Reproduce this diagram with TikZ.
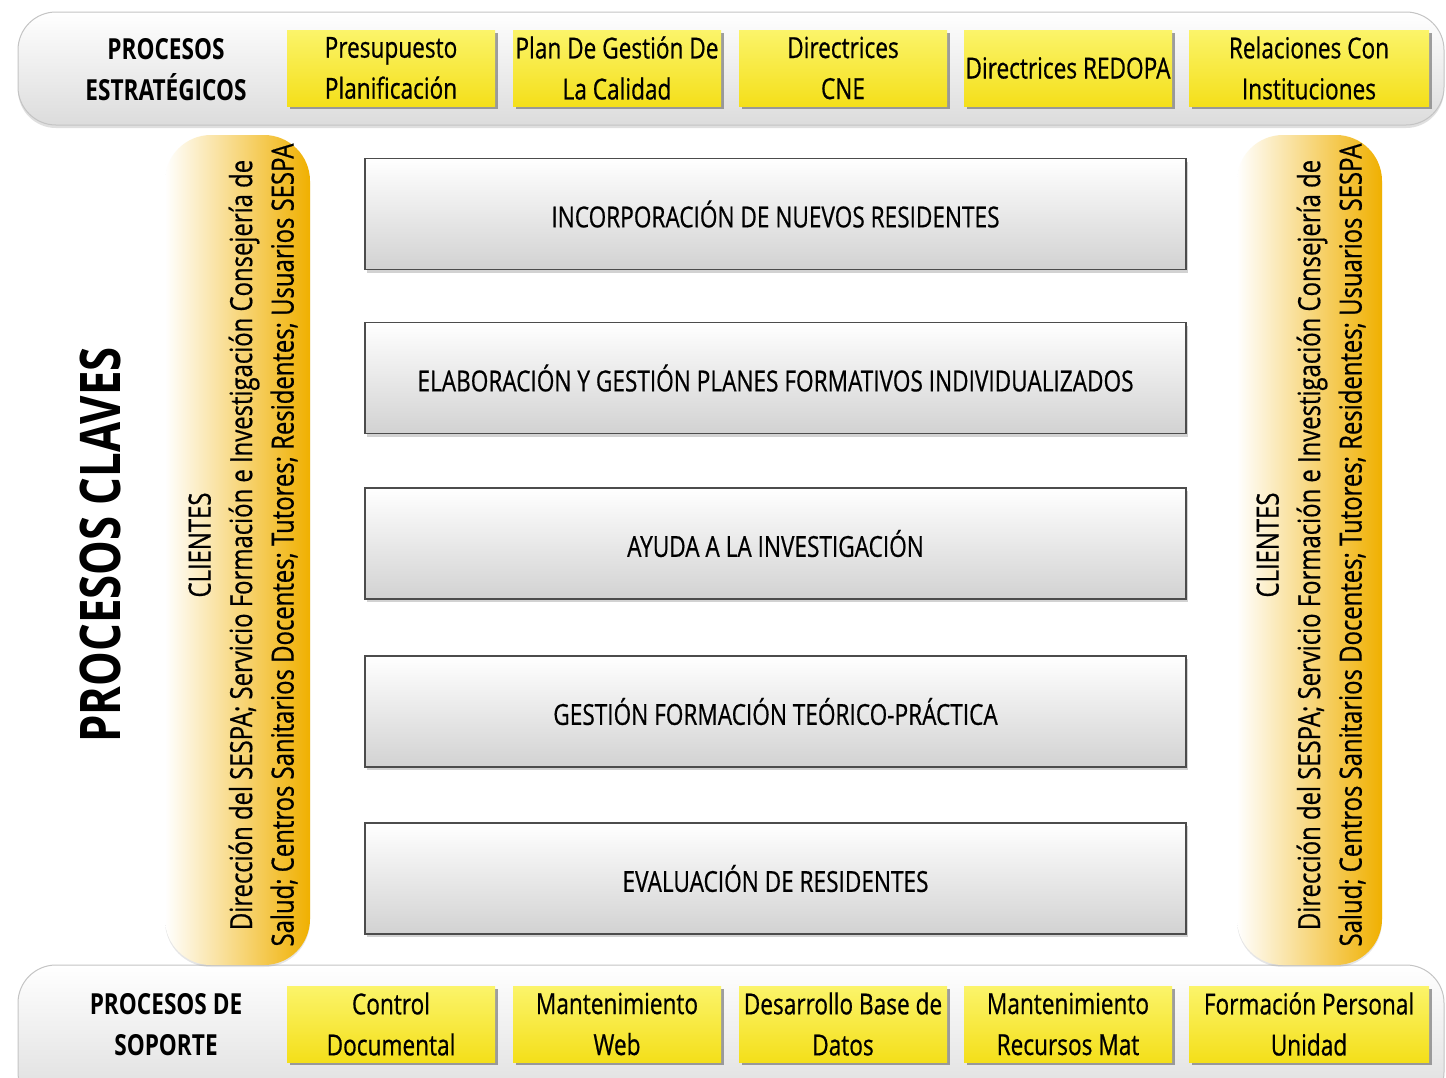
\documentclass[tikz,border=0pt]{standalone}
\usepackage{fontspec}
\setmainfont{Open Sans}[FakeStretch=0.78]
\newfontfamily\medfont{Open Sans}[FakeStretch=0.78, FakeBold=0.6]
\usetikzlibrary{shadows}
\definecolor{ylwT}{HTML}{FBF46A}
\definecolor{ylwB}{HTML}{F4DF1A}
\definecolor{orgR}{HTML}{F0B000}
\definecolor{orgM}{HTML}{F8DC84}
\definecolor{bandB}{HTML}{DCDCDC}
\definecolor{bandL}{HTML}{C4C4C4}
\definecolor{boxB}{HTML}{D2D2D2}
\tikzset{
  band/.style={draw=bandL, line width=1pt, rounded corners=38pt, top color=white, bottom color=bandB,
    drop shadow={shadow xshift=0pt, shadow yshift=-3pt, opacity=0.25}},
  ybox/.style={minimum width=208pt, minimum height=76pt, inner sep=0pt, align=center,
    top color=ylwT, bottom color=ylwB,
    drop shadow={shadow xshift=3pt, shadow yshift=-3pt, opacity=0.75},
    font=\medfont\fontsize{29}{41}\selectfont},
  gbox/.style={draw=black!70, line width=1.5pt, minimum width=821pt, minimum height=111pt, inner sep=0pt,
    top color=white, bottom color=boxB,
    drop shadow={shadow xshift=2pt, shadow yshift=-3pt, opacity=0.35},
    font=\medfont\fontsize{29}{32}\selectfont},
  pill/.style={rounded corners=46pt, left color=white, middle color=orgM, right color=orgR,
    drop shadow={shadow xshift=0pt, shadow yshift=-2pt, opacity=0.2}},
  head/.style={align=center, font=\bfseries\fontsize{29}{41}\selectfont},
  vtext/.style={rotate=90, align=center, font=\medfont\fontsize{30.6}{41.5}\selectfont}
}
\begin{document}
\begin{tikzpicture}[x=1pt,y=-1pt]
\useasboundingbox[fill=white] (0,0) rectangle (1446,1077);
% bands
\path[band] (18,12) rectangle (1444,125);
\path[band] (18,965) rectangle (1444,1110);
% pills
\path[pill] (165,135) rectangle (310,965);
\path[pill] (1237,135) rectangle (1382,965);
% top headers
\node[head] (est) at (166,70) {PROCESOS\\ESTRATÉGICOS};
\node[ybox] (t1) at (391,68) {Presupuesto\\Planificación};
\node[ybox] (t2) at (617,68) {Plan De Gestión De\\La Calidad};
\node[ybox] (t3) at (843,68) {Directrices\\CNE};
\node[ybox] (t4) at (1068,68) {Directrices REDOPA};
\node[ybox, minimum width=240pt] (t5) at (1309,68) {Relaciones Con\\Instituciones};
% bottom
\node[head] (sop) at (166,1025) {PROCESOS DE\\SOPORTE};
\node[ybox] (b1) at (391,1024) {Control\\Documental};
\node[ybox] (b2) at (617,1024) {Mantenimiento\\Web};
\node[ybox] (b3) at (843,1024) {Desarrollo Base de\\Datos};
\node[ybox] (b4) at (1068,1024) {Mantenimiento\\Recursos Mat};
\node[ybox, minimum width=240pt] (b5) at (1309,1024) {Formación Personal\\Unidad};
% key processes
\node[rotate=90, font=\bfseries\fontsize{56}{64}\selectfont] (claves) at (100,545) {PROCESOS CLAVES};
\node[gbox] (k1) at (775.5,214) {INCORPORACIÓN DE NUEVOS RESIDENTES};
\node[gbox] (k2) at (775.5,378) {ELABORACIÓN Y GESTIÓN PLANES FORMATIVOS INDIVIDUALIZADOS};
\node[gbox] (k3) at (775.5,543.5) {AYUDA A LA INVESTIGACIÓN};
\node[gbox] (k4) at (775.5,711.5) {GESTIÓN FORMACIÓN TEÓRICO-PRÁCTICA};
\node[gbox] (k5) at (775.5,878.5) {EVALUACIÓN DE RESIDENTES};
% clients
\node[vtext] (cl) at (243,545) {CLIENTES\\Dirección del SESPA; Servicio Formación e Investigación Consejería de\\Salud; Centros Sanitarios Docentes; Tutores; Residentes; Usuarios SESPA};
\node[vtext] (cr) at (1311,545) {CLIENTES\\Dirección del SESPA; Servicio Formación e Investigación Consejería de\\Salud; Centros Sanitarios Docentes; Tutores; Residentes; Usuarios SESPA};
\end{tikzpicture}
\end{document}
